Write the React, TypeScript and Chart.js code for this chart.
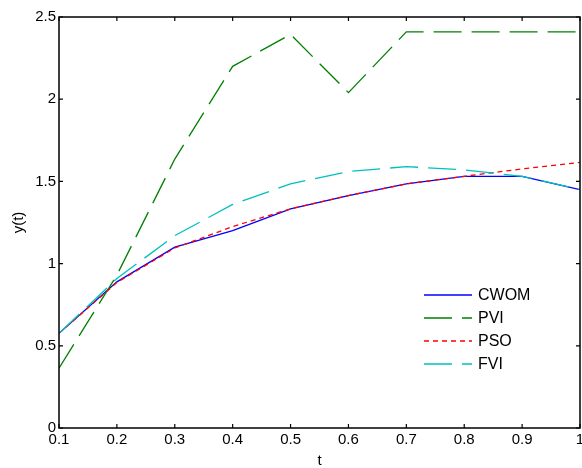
import { useEffect, useRef } from "react";
import { Chart, registerables } from "chart.js";

Chart.register(...registerables);

const tValues = [0.1, 0.2, 0.3, 0.4, 0.5, 0.6, 0.7, 0.8, 0.9, 1.0];
const cwom = [0.576, 0.889, 1.1, 1.2, 1.333, 1.414, 1.485, 1.531, 1.531, 1.45];
const pvi = [0.364, 0.93, 1.636, 2.2, 2.394, 2.04, 2.41, 2.41, 2.41, 2.41];
const pso = [0.576, 0.885, 1.095, 1.225, 1.333, 1.414, 1.485, 1.531, 1.576, 1.616];
const fvi = [0.576, 0.909, 1.17, 1.36, 1.485, 1.56, 1.59, 1.57, 1.531, 1.45];
const seriesNames = ["CWOM", "PVI", "PSO", "FVI"];
const xTickLabels = ["0.1", "0.2", "0.3", "0.4", "0.5", "0.6", "0.7", "0.8", "0.9", "1"];
const yTickLabels = ["0", "0.5", "1", "1.5", "2", "2.5"];

const FONT = "'Liberation Sans', Arial, Helvetica, sans-serif";

const framePlugin = {
  id: "frame",
  afterDraw(chart: any) {
    const { ctx, chartArea: a, scales } = chart;
    ctx.save();
    ctx.strokeStyle = "#000";
    ctx.lineWidth = 1.5;
    ctx.setLineDash([]);
    ctx.strokeRect(a.left, a.top, a.right - a.left, a.bottom - a.top);
    ctx.lineWidth = 1.2;
    const tl = 4;
    scales.x.ticks.forEach((t: any) => {
      const px = scales.x.getPixelForValue(t.value);
      ctx.beginPath();
      ctx.moveTo(px, a.bottom);
      ctx.lineTo(px, a.bottom - tl);
      ctx.moveTo(px, a.top);
      ctx.lineTo(px, a.top + tl);
      ctx.stroke();
    });
    scales.y.ticks.forEach((t: any) => {
      const py = scales.y.getPixelForValue(t.value);
      ctx.beginPath();
      ctx.moveTo(a.left, py);
      ctx.lineTo(a.left + tl, py);
      ctx.moveTo(a.right, py);
      ctx.lineTo(a.right - tl, py);
      ctx.stroke();
    });

    // legend
    const x0 = 424;
    const x1 = 472;
    const tx = 478;
    const rows = [295, 318, 341, 364];
    ctx.font = `16px ${FONT}`;
    ctx.textBaseline = "middle";
    ctx.textAlign = "left";
    ctx.fillStyle = "#000";
    chart.data.datasets.forEach((ds: any, i: number) => {
      const y = rows[i];
      ctx.strokeStyle = ds.borderColor;
      ctx.lineWidth = ds.borderWidth;
      ctx.setLineDash(ds.borderDash || []);
      ctx.beginPath();
      ctx.moveTo(x0, y);
      ctx.lineTo(x1, y);
      ctx.stroke();
      ctx.setLineDash([]);
      ctx.fillText(ds.label, tx, y + 1);
    });
    ctx.restore();
  },
};

export default function App() {
  const ref = useRef<HTMLCanvasElement | null>(null);

  useEffect(() => {
    document.body.style.margin = "0";
    const canvas = ref.current!;
    const mk = (vals: number[]) => tValues.map((t, i) => ({ x: t, y: vals[i] }));
    const chart = new Chart(canvas, {
      type: "line",
      data: {
        datasets: [
          { label: seriesNames[0], data: mk(cwom), borderColor: "#0000ff", borderWidth: 1.3, borderDash: [], order: 4 },
          { label: seriesNames[1], data: mk(pvi), borderColor: "#008000", borderWidth: 1.3, borderDash: [28, 10], order: 3 },
          { label: seriesNames[2], data: mk(pso), borderColor: "#ff0000", borderWidth: 1.3, borderDash: [5, 4], order: 2 },
          { label: seriesNames[3], data: mk(fvi), borderColor: "#00bfbf", borderWidth: 1.3, borderDash: [28, 10], order: 1 },
        ] as any,
      },
      options: {
        animation: false,
        responsive: false,
        devicePixelRatio: 1,
        layout: { padding: { left: 0, top: 17, right: 2, bottom: 0 } },
        elements: { point: { radius: 0 }, line: { tension: 0, fill: false } },
        plugins: { legend: { display: false }, tooltip: { enabled: false } },
        scales: {
          x: {
            type: "linear",
            min: 0.1,
            max: 1.0,
            afterBuildTicks: (s: any) => {
              s.ticks = tValues.map((v) => ({ value: v }));
            },
            ticks: {
              color: "#000",
              font: { family: FONT, size: 15 },
              padding: 3,
              maxRotation: 0,
              autoSkip: false,
              callback: (_v: any, i: number) => xTickLabels[i],
            },
            grid: { display: false, drawTicks: false },
            border: { display: false },
            title: { display: true, text: "t", color: "#000", font: { family: FONT, size: 15 }, padding: { top: 0, bottom: -2 } },
            afterFit: (s: any) => {
              s.height = 40;
              s.paddingLeft = 0;
              s.paddingRight = 0;
            },
          },
          y: {
            type: "linear",
            min: 0,
            max: 2.5,
            afterBuildTicks: (s: any) => {
              s.ticks = yTickLabels.map((l) => ({ value: parseFloat(l) }));
            },
            ticks: {
              color: "#000",
              font: { family: FONT, size: 15 },
              padding: 3,
              autoSkip: false,
              callback: (_v: any, i: number) => yTickLabels[i],
            },
            grid: { display: false, drawTicks: false },
            border: { display: false },
            title: { display: true, text: "y(t)", color: "#000", font: { family: FONT, size: 15 }, padding: { top: 10, bottom: 0 } },
            afterFit: (s: any) => {
              s.width = 59;
              s.paddingTop = 0;
              s.paddingBottom = 0;
            },
          },
        },
      } as any,
      plugins: [framePlugin],
    });
    return () => chart.destroy();
  }, []);

  return (
    <div style={{ position: "absolute", left: 0, top: 0, width: 582, height: 468, background: "#fff" }}>
      <canvas ref={ref} width={582} height={468} />
    </div>
  );
}
